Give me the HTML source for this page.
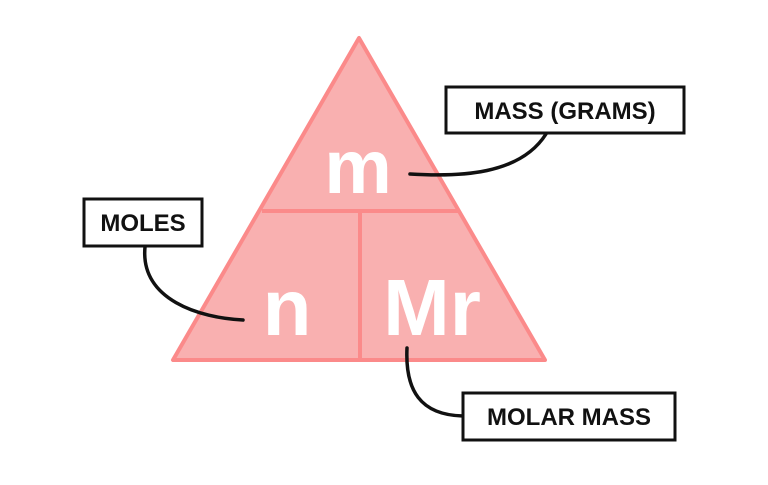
<!DOCTYPE html>
<html><head><style>
html,body{margin:0;padding:0;background:#fff;}
svg{display:block;}
text{font-family:"Liberation Sans",sans-serif;font-weight:bold;}
</style></head><body>
<svg width="768" height="485" viewBox="0 0 768 485" xmlns="http://www.w3.org/2000/svg">
<polygon points="359,38 173,360 545,360" fill="#f9b0b0" stroke="#fb8a8a" stroke-width="4" stroke-linejoin="round"/>
<line x1="262" y1="211" x2="458" y2="211" stroke="#fb8a8a" stroke-width="4"/>
<line x1="360" y1="211" x2="360" y2="360" stroke="#fb8a8a" stroke-width="4"/>
<text x="358" y="193" font-size="76" fill="#fff" text-anchor="middle">m</text>
<text x="287" y="335" font-size="80" fill="#fff" text-anchor="middle">n</text>
<text x="432" y="335" font-size="80" fill="#fff" text-anchor="middle">Mr</text>
<g fill="none" stroke="#111" stroke-width="3.5" stroke-linecap="round">
<path d="M546,134 C520,175 460,177 410,174"/>
<path d="M145,247 C140,300 200,318 243,320"/>
<path d="M407,348 C405,390 420,415 463,416"/>
</g>
<g fill="#fff" stroke="#111" stroke-width="3">
<rect x="446" y="87" width="238" height="46"/>
<rect x="84" y="199" width="118" height="47"/>
<rect x="463" y="393" width="212" height="47"/>
</g>
<g fill="#111" font-size="24" text-anchor="middle">
<text x="565" y="119">MASS (GRAMS)</text>
<text x="143" y="231">MOLES</text>
<text x="569" y="425">MOLAR MASS</text>
</g>
</svg>
</body></html>
